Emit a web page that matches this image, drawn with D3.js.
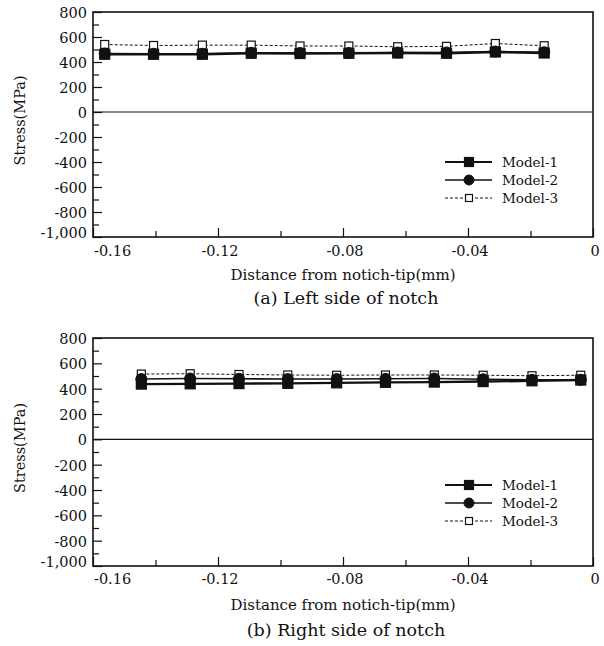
<!DOCTYPE html>
<html>
<head>
<meta charset="utf-8">
<script src="https://cdn.jsdelivr.net/npm/d3@7"></script>
<style>
  body { margin: 0; background: #fff; }
  svg { display: block; }
  text { font-family: "DejaVu Serif", "Liberation Serif", serif; fill: #111; }
</style>
</head>
<body>
<svg id="chart" width="604" height="646"></svg>
<script>
// ---------- DATA ----------
const seriesNames = ["Model-1", "Model-2", "Model-3"];
const yTickValues = [800, 600, 400, 200, 0, -200, -400, -600, -800, -1000];
const yTickLabels = ["800", "600", "400", "200", "0", "-200", "-400", "-600", "-800", "-1,000"];
const xTickValues = [-0.16, -0.12, -0.08, -0.04, 0];
const xTickLabels = ["-0.16", "-0.12", "-0.08", "-0.04", "0"];

// (a) Left side of notch
const xLeft = [-0.15625, -0.140625, -0.125, -0.109375, -0.09375, -0.078125, -0.0625, -0.046875, -0.03125, -0.015625];
const leftModel1 = [462, 462, 462, 470, 468, 470, 472, 470, 480, 472];
const leftModel2 = [468, 466, 466, 474, 472, 472, 476, 476, 484, 478];
const leftModel3 = [540, 532, 535, 535, 528, 528, 522, 525, 548, 530];

// (b) Right side of notch
const xRight = [-0.14453, -0.12891, -0.11328, -0.09766, -0.08203, -0.06641, -0.05078, -0.03516, -0.01953, -0.00391];
const rightModel1 = [436, 438, 440, 442, 446, 450, 452, 456, 462, 468];
const rightModel2 = [476, 480, 478, 476, 476, 478, 480, 474, 470, 470];
const rightModel3 = [515, 518, 512, 508, 506, 508, 508, 506, 502, 506];

const xTitle = "Distance from notich-tip(mm)";
const yTitle = "Stress(MPa)";
const captions = ["(a) Left side of notch", "(b) Right side of notch"];

// ---------- DRAW ----------
const svg = d3.select("#chart");

function drawPanel(opt) {
  const { left, right, top, bottom, xs, s1, s2, s3, caption, legendY, tickLabelY, titleY, captionY } = opt;
  const x = d3.scaleLinear().domain([-0.16, 0]).range([left, right]);
  const y = d3.scaleLinear().domain([-1000, 800]).range([bottom, top]);
  const g = svg.append("g");

  // minor/major y ticks (inward)
  const yMinor = d3.range(-1000, 801, 100);
  const yAxis = d3.axisRight(y).tickValues(yMinor).tickFormat("").tickSize(0).tickSizeOuter(0);
  const ya = g.append("g").attr("transform", `translate(${left},0)`).call(yAxis);
  ya.select(".domain").remove();
  ya.selectAll(".tick line")
    .attr("x2", d => (Math.round(d) % 200 === 0 ? 9 : 6))
    .attr("stroke", "#111").attr("stroke-width", 1.2);

  // y labels
  g.append("g").selectAll("text").data(yTickValues).join("text")
    .attr("x", left - 6).attr("y", d => y(d) + (d === -1000 ? -4 : 1)).attr("dy", "0.35em")
    .attr("text-anchor", "end").attr("font-size", 14.5)
    .text((d, i) => yTickLabels[i]);

  // x ticks (inward)
  const xMinor = d3.range(-16, 1, 2).map(v => v / 100);
  const xAxis = d3.axisTop(x).tickValues(xMinor).tickFormat("").tickSize(0).tickSizeOuter(0);
  const xa = g.append("g").attr("transform", `translate(0,${bottom})`).call(xAxis);
  xa.select(".domain").remove();
  xa.selectAll(".tick line")
    .attr("y2", d => (Math.round(d * 100) % 4 === 0 ? -9 : -6))
    .attr("stroke", "#111").attr("stroke-width", 1.2);

  g.append("g").selectAll("text").data(xTickValues).join("text")
    .attr("x", (d, i) => i === 0 ? x(d) + 1 : x(d) + 2)
    .attr("y", tickLabelY).attr("dy", "0.35em")
    .attr("text-anchor", (d, i) => i === 0 ? "start" : "middle")
    .attr("font-size", 14.5)
    .text((d, i) => xTickLabels[i]);

  // frame
  g.append("rect").attr("x", left).attr("y", top)
    .attr("width", right - left).attr("height", bottom - top)
    .attr("fill", "none").attr("stroke", "#111").attr("stroke-width", 1.6);

  // zero line
  g.append("line").attr("x1", left).attr("x2", right)
    .attr("y1", y(0)).attr("y2", y(0)).attr("stroke", "#111").attr("stroke-width", 1.2);

  // series
  const styles = [
    { width: 2.4, dash: null, marker: "square", fill: "#111", size: 10 },
    { width: 1.6, dash: null, marker: "circle", fill: "#111", size: 11 },
    { width: 1, dash: "3,2", marker: "square", fill: "#fff", size: 8 }
  ];
  const data = [s1, s2, s3];
  const line = d3.line().x(d => x(d[0])).y(d => y(d[1]));

  function marker(sel, st, cx, cy) {
    if (st.marker === "square") {
      sel.append("rect").attr("x", cx - st.size / 2).attr("y", cy - st.size / 2)
        .attr("width", st.size).attr("height", st.size)
        .attr("fill", st.fill).attr("stroke", "#111").attr("stroke-width", 1.2);
    } else {
      sel.append("circle").attr("cx", cx).attr("cy", cy).attr("r", st.size / 2)
        .attr("fill", st.fill).attr("stroke", "#111").attr("stroke-width", 1);
    }
  }

  [2, 1, 0].forEach(k => {
    const st = styles[k];
    const pts = xs.map((xv, i) => [xv, data[k][i]]);
    g.append("path").attr("d", line(pts)).attr("fill", "none")
      .attr("stroke", "#111").attr("stroke-width", st.width)
      .attr("stroke-dasharray", st.dash);
  });
  [2, 1, 0].forEach(k => {
    const st = styles[k];
    const mg = g.append("g");
    xs.forEach((xv, i) => marker(mg, st, x(xv), y(data[k][i])));
  });

  // legend
  const lx1 = 445, lx2 = 492, lm = 469, ltx = 502;
  seriesNames.forEach((name, k) => {
    const st = styles[k];
    const ly = legendY + k * 18;
    g.append("line").attr("x1", lx1).attr("x2", lx2).attr("y1", ly).attr("y2", ly)
      .attr("stroke", "#111").attr("stroke-width", k === 0 ? 2 : st.width)
      .attr("stroke-dasharray", st.dash);
    marker(g, { ...st, size: st.size - 1 }, lm, ly);
    g.append("text").attr("x", ltx).attr("y", ly).attr("dy", "0.35em")
      .attr("font-size", 13.5).text(name);
  });

  // titles
  g.append("text").attr("x", (left + right) / 2).attr("y", titleY).attr("dy", "0.35em")
    .attr("text-anchor", "middle").attr("font-size", 15).text(xTitle);
  g.append("text").attr("transform", `translate(20,${(top + bottom) / 2 - 4}) rotate(-90)`)
    .attr("dy", "0.35em").attr("text-anchor", "middle").attr("font-size", 14.5).text(yTitle);
  g.append("text").attr("x", (left + right) / 2 + 3).attr("y", captionY).attr("dy", "0.35em")
    .attr("text-anchor", "middle").attr("font-size", 17.5).text(caption);
}

drawPanel({ left: 93, right: 593, top: 12, bottom: 237, xs: xLeft,
  s1: leftModel1, s2: leftModel2, s3: leftModel3, caption: captions[0],
  legendY: 162, tickLabelY: 251, titleY: 275, captionY: 298 });
drawPanel({ left: 93, right: 593, top: 338, bottom: 566, xs: xRight,
  s1: rightModel1, s2: rightModel2, s3: rightModel3, caption: captions[1],
  legendY: 485, tickLabelY: 579, titleY: 605, captionY: 630 });
</script>
</body>
</html>
